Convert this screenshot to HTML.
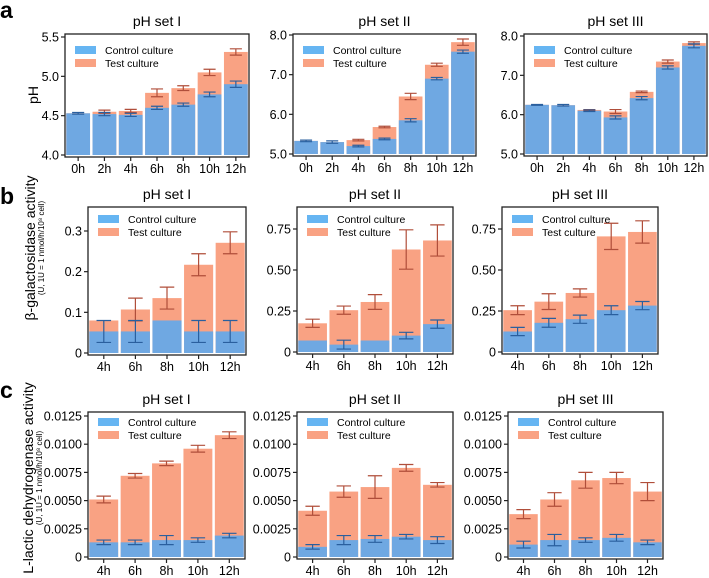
<!DOCTYPE html>
<html><head><meta charset="utf-8">
<style>
body{margin:0;background:#fff;}
svg{display:block;font-family:"Liberation Sans",Arial,sans-serif;}
</style></head>
<body>
<svg id="fig" width="709" height="578" viewBox="0 0 709 578" xmlns="http://www.w3.org/2000/svg">
<text x="0" y="18" font-size="23" font-weight="bold">a</text>
<text x="0" y="204" font-size="23" font-weight="bold">b</text>
<text x="0" y="398" font-size="23" font-weight="bold">c</text>
<text transform="translate(38,95) rotate(-90)" text-anchor="middle" font-size="14">pH</text>
<text transform="translate(35,248) rotate(-90)" text-anchor="middle" font-size="14">β-galactosidase activity</text>
<text transform="translate(44,248) rotate(-90)" text-anchor="middle" font-size="8">(U, 1U = 1 nmol/h/10⁸ cell)</text>
<text transform="translate(33,478) rotate(-90)" text-anchor="middle" font-size="14">L-lactic dehydrogenase activity</text>
<text transform="translate(42,478) rotate(-90)" text-anchor="middle" font-size="8">(U, 1U = 1 nmol/h/10⁸ cell)</text>
</svg>
<script>
// Row a: pH
const catsA = ["0h","2h","4h","6h","8h","10h","12h"];
const aCtrl1 = [4.53,4.52,4.51,4.60,4.64,4.77,4.90];
const aCtrlE1 = [0.01,0.02,0.02,0.02,0.02,0.03,0.04];
const aTest1 = [4.53,4.55,4.56,4.79,4.85,5.05,5.31];
const aTestE1 = [0,0.02,0.02,0.05,0.03,0.04,0.04];
const aCtrl2 = [5.33,5.30,5.20,5.38,5.85,6.90,7.58];
const aCtrlE2 = [0.02,0.03,0.02,0.02,0.04,0.03,0.04];
const aTest2 = [5.33,5.30,5.35,5.68,6.45,7.25,7.82];
const aTestE2 = [0,0,0.02,0.02,0.08,0.04,0.08];
const aCtrl3 = [6.25,6.24,6.10,5.93,6.42,7.20,7.75];
const aCtrlE3 = [0.01,0.02,0.02,0.04,0.04,0.04,0.05];
const aTest3 = [6.25,6.24,6.12,6.08,6.58,7.35,7.82];
const aTestE3 = [0,0,0.01,0.05,0.02,0.04,0.03];
const ticksA1 = [4.0,4.5,5.0,5.5];
const ticksA2 = [5.0,6.0,7.0,8.0];
// Row b: beta-galactosidase
const catsB = ["4h","6h","8h","10h","12h"];
const bCtrl1 = [0.053,0.053,0.08,0.053,0.053];
const bCtrlE1 = [0.027,0.027,0,0.027,0.027];
const bTest1 = [0.08,0.107,0.135,0.217,0.271];
const bTestE1 = [0,0.028,0.027,0.027,0.027];
const bCtrl2 = [0.07,0.045,0.07,0.10,0.17];
const bCtrlE2 = [0,0.027,0,0.02,0.025];
const bTest2 = [0.175,0.255,0.305,0.625,0.68];
const bTestE2 = [0.025,0.025,0.045,0.12,0.095];
const bCtrl3 = [0.125,0.178,0.20,0.255,0.283];
const bCtrlE3 = [0.025,0.027,0.025,0.027,0.025];
const bTest3 = [0.255,0.307,0.36,0.705,0.732];
const bTestE3 = [0.027,0.048,0.025,0.08,0.068];
const ticksB1 = [0,0.1,0.2,0.3];
const tickLabB1 = ["0","0.1","0.2","0.3"];
const ticksB2 = [0,0.25,0.5,0.75];
const tickLabB2 = ["0","0.25","0.50","0.75"];
// Row c: LDH
const cCtrl1 = [0.0013,0.0013,0.0015,0.0015,0.0019];
const cCtrlE1 = [0.0002,0.0002,0.0004,0.0002,0.0002];
const cTest1 = [0.0051,0.0072,0.0083,0.0096,0.0108];
const cTestE1 = [0.0003,0.0002,0.0002,0.0003,0.0003];
const cCtrl2 = [0.0009,0.0015,0.0016,0.0018,0.0015];
const cCtrlE2 = [0.0002,0.0004,0.0003,0.0002,0.0003];
const cTest2 = [0.0041,0.0058,0.0062,0.0079,0.0064];
const cTestE2 = [0.0004,0.0005,0.001,0.0003,0.0002];
const cCtrl3 = [0.0011,0.0015,0.0015,0.0017,0.0013];
const cCtrlE3 = [0.0003,0.0005,0.0002,0.0003,0.0002];
const cTest3 = [0.0038,0.0051,0.0068,0.0070,0.0058];
const cTestE3 = [0.0004,0.0006,0.0007,0.0005,0.0008];
const ticksC = [0,0.0025,0.005,0.0075,0.01,0.0125];
const tickLabC = ["0","0.0025","0.0050","0.0075","0.0100","0.0125"];

const NS="http://www.w3.org/2000/svg";
const svg=document.getElementById('fig');
function mk(tag,attrs,parent){const e=document.createElementNS(NS,tag);for(const k in attrs)e.setAttribute(k,attrs[k]);(parent||svg).appendChild(e);return e;}

function panel(id,x0,x1,yTop,y0,yT,vmin,vmax,cats,ctrl,ctrlE,test,testE,ticks,tickLab,title,legY){
  const g=mk('g',{});
  
  
  const ys=v=>y0-(v-vmin)/(vmax-vmin)*(y0-yT);
  const n=cats.length, w=(x1-x0)/n, gap=2.5;
  const xc=i=>x0+w*(i+0.5);
  const t=mk('text',{x:(x0+x1)/2,y:yTop-8,'text-anchor':'middle','font-size':14},g);
  t.textContent=title;
  
  
  for(let i=0;i<n;i++){
    const r=mk('rect',{x:x0+w*i+gap/2,y:ys(test[i]),width:w-gap,height:y0-ys(test[i]),fill:'#f9a283'},g);
    
    
  }
  for(let i=0;i<n;i++){
    const r=mk('rect',{x:x0+w*i+gap/2,y:ys(ctrl[i]),width:w-gap,height:y0-ys(ctrl[i]),fill:'#6fa8e2'},g);
    
    
  }
  function err(v,e,col,nm){
    for(let i=0;i<n;i++){
      if(e[i]<=0) continue;
      const cx=xc(i), hw=w*0.23, a=ys(v[i]+e[i]), b=ys(v[i]-e[i]);
      const p=mk('path',{d:`M${cx-hw},${a}H${cx+hw}M${cx},${a}V${b}M${cx-hw},${b}H${cx+hw}`,stroke:col,'stroke-width':1.2,fill:'none'},g);
      
      
    }
  }
  err(test,testE,'#b04e3a','test-error-bar');
  err(ctrl,ctrlE,'#2a5f9e','control-error-bar');
  const f=mk('rect',{x:x0,y:yTop,width:x1-x0,height:y0+2-yTop,fill:'none',stroke:'#222','stroke-width':1.3},g);
  
  
  ticks.forEach((tv,k)=>{
    const y=ys(tv);
    mk('line',{x1:x0-4,x2:x0,y1:y,y2:y,stroke:'#222','stroke-width':1.2},g);
    const tl=mk('text',{x:x0-6,y:y+4.5,'text-anchor':'end','font-size':12.5},g);
    tl.textContent=tickLab[k];
    
    
  });
  cats.forEach((c,i)=>{
    mk('line',{x1:xc(i),x2:xc(i),y1:y0+2,y2:y0+6,stroke:'#222','stroke-width':1.2},g);
    const xl=mk('text',{x:xc(i),y:y0+18,'text-anchor':'middle','font-size':12.5},g);
    xl.textContent=c;
    
    
  });
  const lg=mk('g',{},g);
  
  
  mk('rect',{x:x0+10,y:legY,width:21,height:8,fill:'#66b5f2'},lg);
  mk('rect',{x:x0+10,y:legY+13,width:21,height:8,fill:'#f9a283'},lg);
  const l1=mk('text',{x:x0+40,y:legY+8,'font-size':10.5},lg); l1.textContent='Control culture';
  
  
  const l2=mk('text',{x:x0+40,y:legY+21,'font-size':10.5},lg); l2.textContent='Test culture';
  
  
}
const labA1=ticksA1.map(v=>v.toFixed(1)), labA2=ticksA2.map(v=>v.toFixed(1));
panel('ph-set-1-chart',65,249,34,155,37,4.0,5.5,catsA,aCtrl1,aCtrlE1,aTest1,aTestE1,[4.0,4.5,5.0,5.5],labA1,'pH set I',46);
panel('ph-set-2-chart',293,476,34,154,35,5.0,8.0,catsA,aCtrl2,aCtrlE2,aTest2,aTestE2,ticksA2,labA2,'pH set II',46);
panel('ph-set-3-chart',524,707,34,154,36,5.0,8.0,catsA,aCtrl3,aCtrlE3,aTest3,aTestE3,ticksA2,labA2,'pH set III',46);
panel('bgal-set-1-chart',88,246,207,353,231,0,0.3,catsB,bCtrl1,bCtrlE1,bTest1,bTestE1,ticksB1,tickLabB1,'pH set I',215);
panel('bgal-set-2-chart',297,453,207,352,229,0,0.75,catsB,bCtrl2,bCtrlE2,bTest2,bTestE2,ticksB2,tickLabB2,'pH set II',215);
panel('bgal-set-3-chart',502,658,207,352,229,0,0.75,catsB,bCtrl3,bCtrlE3,bTest3,bTestE3,ticksB2,tickLabB2,'pH set III',215);
panel('ldh-set-1-chart',88,245,412,557,416,0,0.0125,catsB,cCtrl1,cCtrlE1,cTest1,cTestE1,ticksC,tickLabC,'pH set I',418);
panel('ldh-set-2-chart',297,453,412,557,416,0,0.0125,catsB,cCtrl2,cCtrlE2,cTest2,cTestE2,ticksC,tickLabC,'pH set II',418);
panel('ldh-set-3-chart',508,663,412,557,416,0,0.0125,catsB,cCtrl3,cCtrlE3,cTest3,cTestE3,ticksC,tickLabC,'pH set III',418);
</script>
</body></html>
